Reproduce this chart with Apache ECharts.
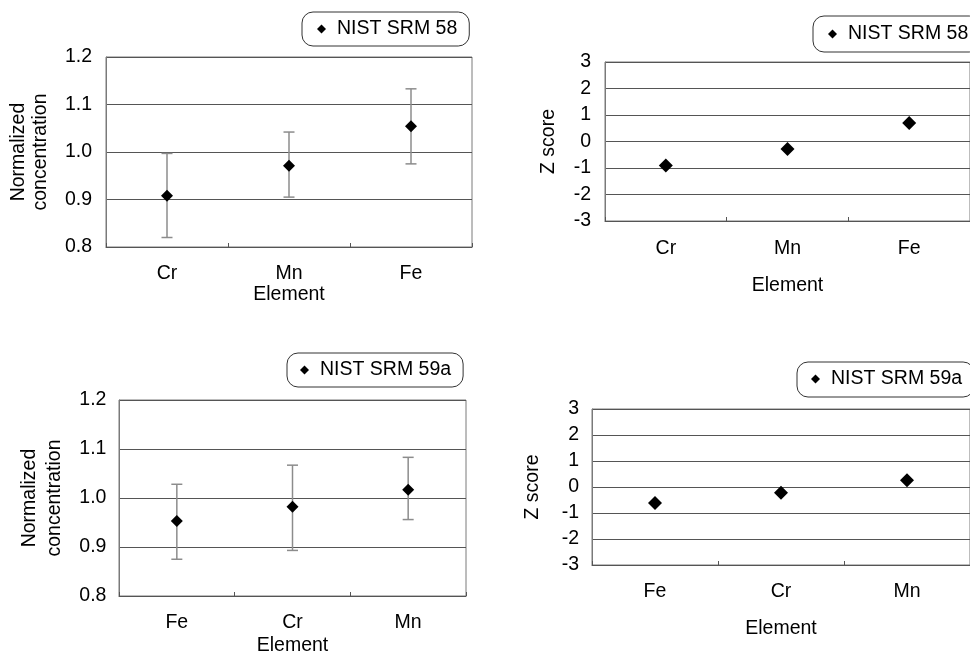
<!DOCTYPE html>
<html>
<head>
<meta charset="utf-8">
<script src="https://cdn.jsdelivr.net/npm/echarts@6/dist/echarts.min.js"></script>
<style>
html,body{margin:0;padding:0;background:#fff;}
#chart{width:970px;height:657px;}
</style>
</head>
<body>
<div id="chart"></div>
<script>
// ---- data ----
const cats58 = ['Cr', 'Mn', 'Fe'];
const norm58 = [0.908, 0.971, 1.054];
const norm58Low = [0.820, 0.905, 0.975];
const norm58High = [0.997, 1.042, 1.133];
const z58 = [-0.91, -0.28, 0.70];

const cats59a = ['Fe', 'Cr', 'Mn'];
const norm59a = [0.953, 0.982, 1.017];
const norm59aLow = [0.875, 0.893, 0.956];
const norm59aHigh = [1.028, 1.067, 1.083];
const z59a = [-0.62, -0.22, 0.26];

const normTicks = {min: 0.8, max: 1.2, interval: 0.1};
const zTicks = {min: -3, max: 3, interval: 1};
const name58 = 'NIST SRM 58';
const name59a = 'NIST SRM 59a';

// ---- styling ----
const FONT = 'Liberation Sans, Arial, sans-serif';
const FS = 19.5;

function grid(left, top, width, height) {
  return {left, top, width, height, show: true, borderColor: '#7a7a7a', borderWidth: 1, backgroundColor: 'transparent', containLabel: false};
}
function xAxis(gi, cats, margin, nameGap) {
  return {
    type: 'category', gridIndex: gi, data: cats, boundaryGap: true,
    name: 'Element', nameLocation: 'middle', nameGap: nameGap,
    nameTextStyle: {fontFamily: FONT, fontSize: FS, color: '#000', lineHeight: 20},
    axisLine: {show: true, onZero: false, lineStyle: {color: '#555', width: 1}},
    axisTick: {show: true, inside: true, length: 4, lineStyle: {color: '#555'}},
    axisLabel: {margin: margin, fontFamily: FONT, fontSize: FS, color: '#000', lineHeight: 20},
    splitLine: {show: false}
  };
}
function yAxis(gi, ticks, name, nameGap, lineHeight, margin, fmt) {
  return {
    type: 'value', gridIndex: gi, min: ticks.min, max: ticks.max, interval: ticks.interval,
    name: name, nameLocation: 'middle', nameRotate: 90, nameGap: nameGap,
    nameTextStyle: {fontFamily: FONT, fontSize: FS, color: '#000', lineHeight: lineHeight},
    axisLine: {show: true, onZero: false, lineStyle: {color: '#7a7a7a'}},
    axisTick: {show: false},
    axisLabel: {margin: margin, fontFamily: FONT, fontSize: FS, color: '#000', formatter: fmt},
    splitLine: {show: true, lineStyle: {color: '#555', width: 1}}
  };
}
function legend(left, top, name, pad) {
  return {
    left, top, data: [name], orient: 'horizontal',
    icon: 'diamond', itemWidth: 9, itemHeight: 9, itemGap: 0,
    padding: pad, borderColor: '#333', borderWidth: 1, borderRadius: 11,
    backgroundColor: '#fff',
    itemStyle: {color: '#000', opacity: 1},
    textStyle: {fontFamily: FONT, fontSize: FS, color: '#000', lineHeight: 20, padding: [0, 0, 0, 6]},
    selectedMode: false
  };
}
function scatter(name, xi, vals, size) {
  return {
    name, type: 'scatter', xAxisIndex: xi, yAxisIndex: xi,
    data: vals.map((v, i) => [i, v]),
    symbol: 'diamond', symbolSize: size,
    itemStyle: {color: '#000', opacity: 1}, z: 5, silent: true
  };
}
function errBars(xi, lows, highs) {
  return {
    name: 'err' + xi, type: 'custom', xAxisIndex: xi, yAxisIndex: xi,
    data: lows.map((l, i) => [i, l, highs[i]]),
    renderItem: function (params, api) {
      const x = api.value(0);
      const lo = api.coord([x, api.value(1)]);
      const hi = api.coord([x, api.value(2)]);
      const cap = 5.5;
      const st = {stroke: '#8c8c8c', lineWidth: 1.5};
      return {type: 'group', children: [
        {type: 'line', shape: {x1: lo[0], y1: lo[1], x2: hi[0], y2: hi[1]}, style: st},
        {type: 'line', shape: {x1: lo[0] - cap, y1: lo[1], x2: lo[0] + cap, y2: lo[1]}, style: st},
        {type: 'line', shape: {x1: hi[0] - cap, y1: hi[1], x2: hi[0] + cap, y2: hi[1]}, style: st}
      ]};
    },
    z: 3, silent: true
  };
}
const f1 = v => v.toFixed(1);
const f0 = v => String(Math.round(v));

const chart = echarts.init(document.getElementById('chart'), null, {renderer: 'canvas'});
chart.setOption({
  animation: false,
  backgroundColor: '#fff',
  grid: [
    grid(106, 57, 366, 190),
    grid(605, 62, 380, 159),
    grid(119, 400, 347, 199),
    grid(592, 409, 386, 156)
  ],
  xAxis: [
    xAxis(0, cats58, 17, 35),
    xAxis(1, cats58, 18, 55),
    xAxis(2, cats59a, 16.5, 40),
    xAxis(3, cats59a, 17, 54)
  ],
  yAxis: [
    yAxis(0, normTicks, 'Normalized\nconcentration', 54, 22, 14, f1),
    yAxis(1, zTicks, 'Z score', 46.5, 20, 14, f0),
    yAxis(2, normTicks, 'Normalized\nconcentration', 52, 25, 12.6, f1),
    yAxis(3, zTicks, 'Z score', 49.5, 20, 13, f0)
  ],
  legend: [
    legend(302, 12, name58, [7, 12, 7, 15]),
    legend(813, 16, name58, [8, 12, 8, 15]),
    legend(287, 353, name59a, [7, 12, 7, 13]),
    legend(797, 362, name59a, [7, 12, 8, 14])
  ],
  series: [
    errBars(0, norm58Low, norm58High),
    scatter(name58, 0, norm58, 12),
    scatter(name58, 1, z58, 14),
    errBars(2, norm59aLow, norm59aHigh),
    scatter(name59a, 2, norm59a, 12),
    scatter(name59a, 3, z59a, 14)
  ]
});
</script>
</body>
</html>
